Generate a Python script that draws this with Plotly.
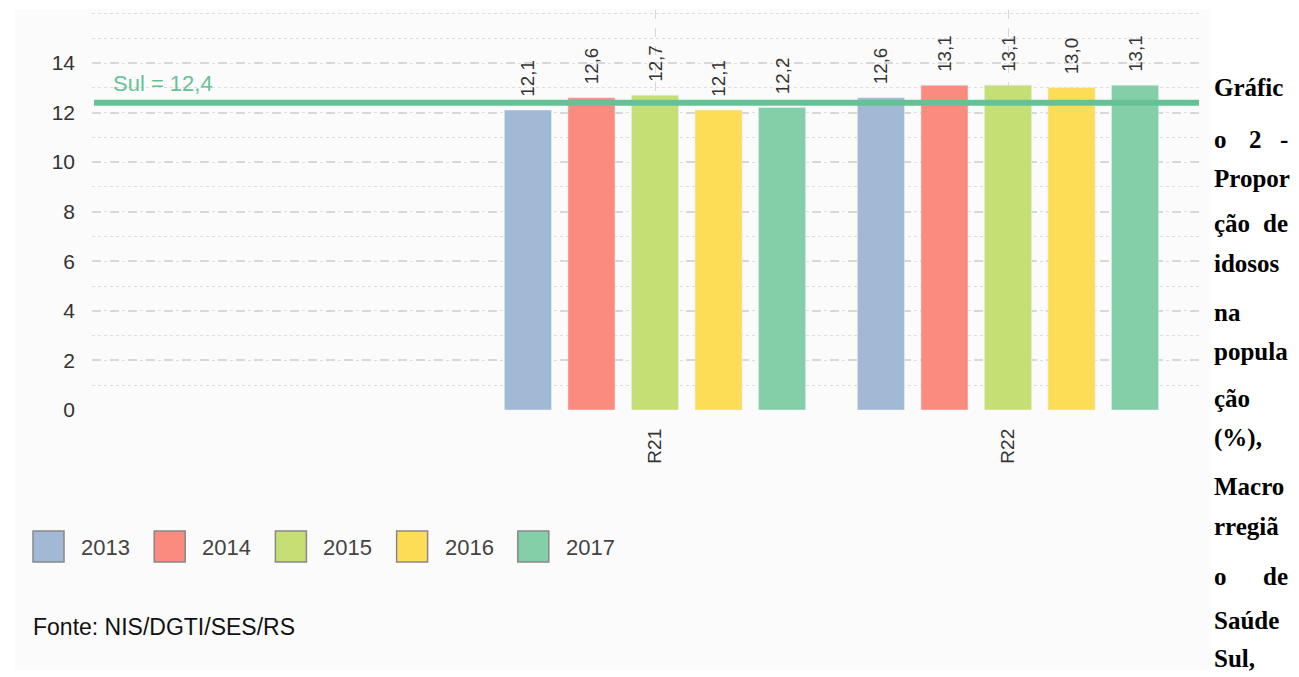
import plotly.graph_objects as go

categories = ["R21", "R22"]
years = ["2013", "2014", "2015", "2016", "2017"]
values = {
    "2013": [12.1, 12.6],
    "2014": [12.6, 13.1],
    "2015": [12.7, 13.1],
    "2016": [12.1, 13.0],
    "2017": [12.2, 13.1],
}
colors = ["#a1b9d4", "#fb8b7f", "#c6df74", "#fedd56", "#84cfa8"]
sul_value = 12.4
sul_label = "Sul = 12,4"
y_ticks = [0, 2, 4, 6, 8, 10, 12, 14]
source_text = "Fonte: NIS/DGTI/SES/RS"
side_lines = ["Gráfic", ["o", "2", "-"], "Propor", ["ção", "de"], "idosos", "na",
              "popula", "ção", "(%),", "Macro", "rregiã", ["o", "de"], "Saúde", "Sul,"]
side_y = [87, 139, 178, 224, 263, 312, 351, 398, 438, 487, 526, 576, 620, 658]

OFF = 8  # page body margin
W, H = 1299 - 2 * OFF, 677 - OFF
PL, PR, PT, PB = 92, 1199, 10, 410  # plot area in reference pixels
L, R, T, B = PL - OFF, W - (PR - OFF), PT - OFF, H - (PB - OFF)
pw, ph = W - L - R, H - T - B

def px(x):
    return (x - PL) / pw

def py(y):
    return (PB - y) / ph

def fmt(v):
    return "\u00a0\u00a0" + f"{v:.1f}".replace(".", ",")

FONT = "Liberation Sans"

fig = go.Figure()
for yr, col in zip(years, colors):
    fig.add_trace(go.Bar(
        x=categories, y=values[yr], name=yr, marker_color=col,
        text=[fmt(v) for v in values[yr]], textposition="outside", textangle=-90,
        textfont=dict(family=FONT, size=20, color="#333333"),
        cliponaxis=False, showlegend=False,
    ))

# background panel
fig.add_shape(type="rect", xref="paper", yref="paper",
              x0=px(15), x1=px(1211), y0=py(670), y1=py(9),
              fillcolor="#fbfbfb", line_width=0, layer="below")

fig.add_shape(type="line", xref="paper", yref="y", x0=px(94), x1=px(PR),
              y0=sul_value, y1=sul_value, line=dict(color="#66c296", width=6))
fig.add_annotation(xref="paper", yref="paper", x=px(111), y=py(83),
                   text=sul_label, showarrow=False, xanchor="left", yanchor="middle",
                   font=dict(family=FONT, size=22, color="#66c296"))

# legend drawn as boxes + labels
for i, (yr, col) in enumerate(zip(years, colors)):
    x0 = 33 + i * 121.2
    fig.add_shape(type="rect", xref="paper", yref="paper",
                  x0=px(x0), x1=px(x0 + 31), y0=py(562), y1=py(531),
                  fillcolor=col, line=dict(color="#888888", width=1.5))
    fig.add_annotation(xref="paper", yref="paper", x=px(x0 + 46), y=py(547),
                       text=yr, showarrow=False, xanchor="left", yanchor="middle",
                       font=dict(family=FONT, size=22, color="#444444"))

fig.add_annotation(xref="paper", yref="paper", x=px(31), y=py(627),
                   text=source_text, showarrow=False, xanchor="left", yanchor="middle",
                   font=dict(family=FONT, size=23, color="#111111"))

xl, xr = px(1212), px(1290)
for line, yy in zip(side_lines, side_y):
    yp = py(yy)
    f = dict(family="Liberation Serif", size=25, color="black")
    parts = [line] if isinstance(line, str) else line
    n = len(parts)
    for i, part in enumerate(parts):
        if i == 0:
            xa, xx = "left", xl
        elif i == n - 1:
            xa, xx = "right", xr
        else:
            xa, xx = "center", (xl + xr) / 2 + 0.004
        fig.add_annotation(xref="paper", yref="paper", x=xx, y=yp, text=f"<b>{part}</b>",
                           showarrow=False, xanchor=xa, yanchor="middle", font=f)

fig.update_layout(
    width=W, height=H,
    margin=dict(l=L, r=R, t=T, b=B),
    paper_bgcolor="white", plot_bgcolor="#fbfbfb",
    barmode="group", bargap=0.1, bargroupgap=0.26,
    font=dict(family=FONT, size=20, color="#333333"),
    showlegend=False,
)
# category centres at reference px 655 and 1008 -> 353 px per category
x_lo = (PL - 655) / 353
x_hi = (PR - 655) / 353
fig.update_xaxes(range=[x_lo, x_hi], tickangle=-90, showgrid=True, griddash="dash",
                 gridcolor="#d8d8d8", gridwidth=1, showline=False, ticks="",
                 ticklabelstandoff=14,
                 tickfont=dict(family=FONT, size=19, color="#333333"))
y_top = 14 + (63 - PT) / ((PB - 63) / 14)
fig.update_yaxes(range=[0, y_top], tickvals=y_ticks, showgrid=True, griddash="dash",
                 gridcolor="#d8d8d8", gridwidth=1.5, zeroline=False, showline=False,
                 ticks="", ticklabelstandoff=16,
                 minor=dict(dtick=1, showgrid=True, griddash="dot", gridcolor="#dddddd", gridwidth=1),
                 tickfont=dict(family=FONT, size=21, color="#333333"))

fig.write_html("out.html")
